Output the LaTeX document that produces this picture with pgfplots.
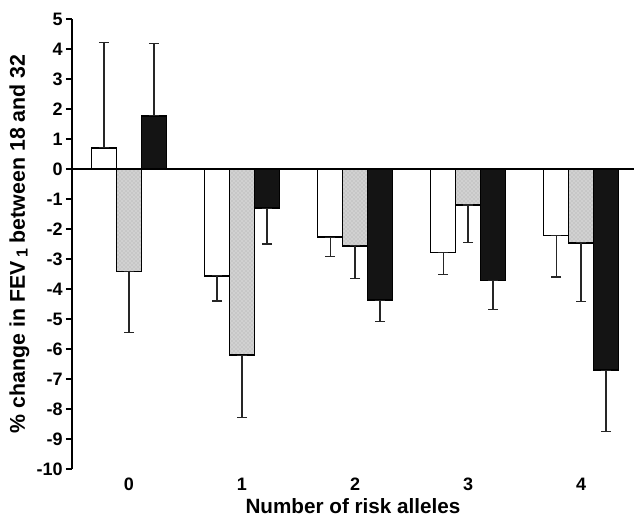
\documentclass[border=0pt]{standalone}
\usepackage{fontspec}
\setmainfont{Liberation Sans}
\usepackage{pgfplots}
\pgfplotsset{compat=1.18}
\usetikzlibrary{patterns}
\usepackage{pgfplotstable}

\pgfplotstableread{
x y ep em
0 0.71 3.50 0
1 -3.56 0 0.84
2 -2.27 0 0.64
3 -2.78 0 0.74
4 -2.22 0 1.38
}\white
\pgfplotstableread{
x y ep em
0 -3.42 0 2.02
1 -6.21 0 2.07
2 -2.56 0 1.10
3 -1.20 0 1.26
4 -2.46 0 1.97
}\gray
\pgfplotstableread{
x y ep em
0 1.77 2.41 0
1 -1.31 0 1.19
2 -4.37 0 0.72
3 -3.72 0 0.95
4 -6.71 0 2.03
}\black

\begin{document}
\begin{tikzpicture}
\begin{axis}[
  x=84.75pt, y=22.5pt,
  xmin=-0.505, xmax=4.469,
  ymin=-10, ymax=5,
  axis y line*=left,
  axis x line*=bottom,
  x axis line style={draw=none},
  ytick={-10,...,5},
  xtick={0,1,2,3,4},
  xtick style={draw=none},
  tick align=outside,
  major tick length=4.5pt,
  y tick style={line width=1.1pt, black},
  y axis line style={line width=1.3pt},
  /pgf/number format/assume math mode=true,
  ticklabel style={font=\fontsize{13.5}{16}\selectfont\bfseries},
  yticklabel style={xshift=1pt},
  xticklabel style={yshift=1pt},
  extra y ticks={0},
  extra y tick labels={},
  extra y tick style={grid=major, major grid style={line width=1.1pt, black}, major tick length=0pt},
  xlabel={Number of risk alleles},
  ylabel={\% change in FEV\,{\fontsize{12}{14}\selectfont\raisebox{-2pt}{1}} between 18 and 32},
  xlabel style={font=\fontsize{15.5}{18}\selectfont\bfseries, yshift=1.5pt},
  ylabel style={font=\fontsize{16}{19}\selectfont\bfseries, yshift=-6pt},
  ybar,
  bar width=0.221,
  clip=false,
  error bars/y dir=both,
  error bars/y explicit,
  error bars/error bar style={line width=0.8pt, black!85},
  error bars/error mark options={rotate=90, mark size=3.8pt, line width=0.8pt, black!85},
]
\addplot[draw=black, line width=1.3pt, fill=white, bar shift=-0.221]
  table[x=x, y=y, y error plus=ep, y error minus=em] {\white};
\addplot[draw=black, line width=1.3pt, fill=black!18, bar shift=0,
  postaction={pattern=crosshatch dots, pattern color=black!35}]
  table[x=x, y=y, y error plus=ep, y error minus=em] {\gray};
\addplot[draw=black, line width=1.3pt, fill=black!92, bar shift=0.221]
  table[x=x, y=y, y error plus=ep, y error minus=em] {\black};
\coordinate (bbA) at (axis cs:-1.1416,5.633);
\coordinate (bbB) at (axis cs:4.469,-11.6);
\end{axis}
\pgfresetboundingbox
\path[use as bounding box] (bbA) rectangle (bbB);
\end{tikzpicture}
\end{document}
